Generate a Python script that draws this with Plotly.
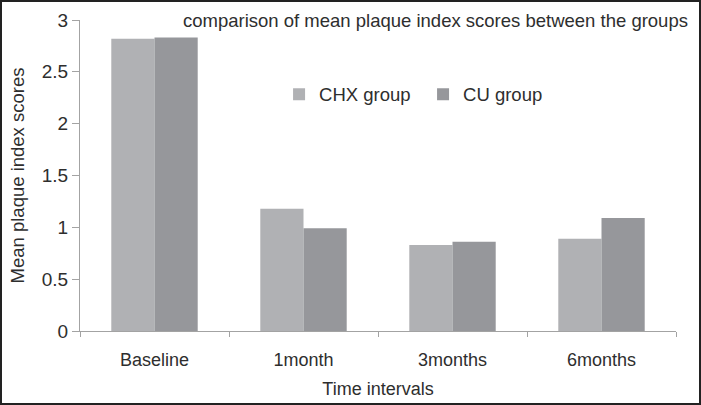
import plotly.graph_objs as go

categories = ["Baseline", "1month", "3months", "6months"]
chx_scores = [2.82, 1.18, 0.83, 0.89]
cu_scores = [2.83, 0.99, 0.86, 1.09]
y_ticks = [0, 0.5, 1, 1.5, 2, 2.5, 3]
y_tick_labels = ["0", "0.5", "1", "1.5", "2", "2.5", "3"]

W, H = 701, 405
ML, MR, MT, MB = 80, 25, 20, 74
pw, ph = W - ML - MR, H - MT - MB

fam = "Arial, Liberation Sans, sans-serif"
txt_col = "#2e2e2e"
font = dict(family=fam, size=18, color=txt_col)
axis_col = "#a3a3a3"

fig = go.Figure()
fig.add_trace(go.Bar(x=categories, y=chx_scores, name="CHX group",
                     marker=dict(color="#b0b1b4", line=dict(width=0))))
fig.add_trace(go.Bar(x=categories, y=cu_scores, name="CU group",
                     marker=dict(color="#96979b", line=dict(width=0))))

fig.update_layout(
    width=W, height=H,
    margin=dict(l=ML, r=MR, t=MT, b=MB, autoexpand=False),
    paper_bgcolor="white", plot_bgcolor="white",
    font=font,
    barmode="group", bargap=0.42, bargroupgap=0,
    showlegend=True,
    legend=dict(orientation="h", x=0.334, y=0.76, xanchor="left", yanchor="middle",
                itemwidth=30, entrywidth=99, bgcolor="rgba(0,0,0,0)",
                font=dict(family=fam, size=18.5, color=txt_col)),
    xaxis=dict(showline=True, linecolor=axis_col, linewidth=1, ticks="outside",
               tickson="boundaries", ticklen=5, tickcolor=axis_col, tickwidth=1,
               showgrid=False, automargin=False, ticklabelstandoff=12,
               tickfont=dict(family=fam, size=18, color=txt_col),
               title=dict(text="Time intervals", standoff=13,
                          font=dict(family=fam, size=18, color=txt_col))),
    yaxis=dict(range=[0, 3], tickvals=y_ticks, ticktext=y_tick_labels,
               showline=True, linecolor=axis_col, linewidth=1, ticks="outside",
               ticklen=7, tickcolor=axis_col, tickwidth=1, showgrid=False,
               zeroline=False, automargin=False,
               tickfont=dict(family=fam, size=19, color=txt_col),
               title=dict(text="Mean plaque index scores", standoff=12,
                          font=dict(family=fam, size=18.5, color=txt_col))),
)

fig.add_annotation(text="comparison of mean plaque index scores between the groups",
                   xref="paper", yref="paper", x=(690 - ML) / pw, y=1.0, xanchor="right",
                   yanchor="middle", showarrow=False,
                   font=dict(family=fam, size=18.5, color=txt_col))

# frame around the whole picture
fig.add_shape(type="rect", xref="paper", yref="paper",
              x0=-(ML - 1) / pw, x1=1 + (MR - 1) / pw,
              y0=-(MB - 1) / ph, y1=1 + (MT - 1) / ph,
              line=dict(color="#222222", width=2))

fig.write_html("out.html", config={"displayModeBar": False},
               post_script="document.body.style.margin='0';")
